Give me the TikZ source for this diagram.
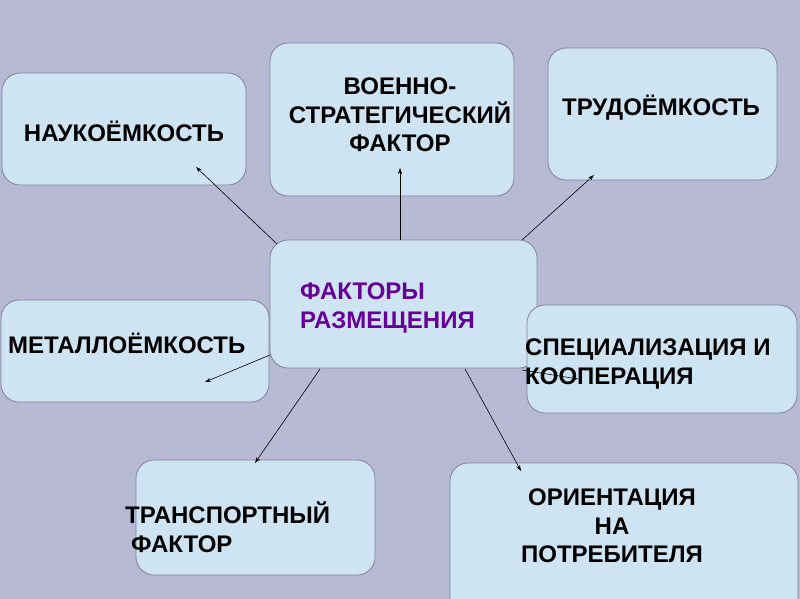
\documentclass[tikz,border=0pt]{standalone}
\usepackage{fontspec}
\setmainfont{Liberation Sans}
\usetikzlibrary{arrows.meta}
\definecolor{bgcol}{HTML}{B8B9D5}
\definecolor{boxfill}{HTML}{CFE4F2}
\definecolor{boxline}{HTML}{7E8496}
\definecolor{titlecol}{HTML}{660099}
\tikzset{
  box/.style={draw=boxline, line width=0.8pt, fill=boxfill, rounded corners=18pt},
  lbl/.style={inner sep=0pt, font=\fontsize{24}{28.5}\selectfont\bfseries},
  link/.style={draw=black, line width=0.6pt, -{Stealth[length=6pt,width=4pt]}}
}
\begin{document}
\begin{tikzpicture}[x=1pt,y=-1pt]
\fill[bgcol] (0,0) rectangle (800,599);
\useasboundingbox (0,0) rectangle (800,599);
% boxes
\draw[box] (2,73) rectangle (246,185);
\draw[box] (270,43) rectangle (514,196);
\draw[box] (548,48) rectangle (777,180);
\draw[box] (1,300) rectangle (269,402);
\draw[box] (270,240) rectangle (537,368);
\draw[box] (527,305) rectangle (797,413);
\draw[box] (136,460) rectangle (375,575);
\draw[box] (450,463) rectangle (798,640);
% labels
\node[lbl] (nauk) at (124,131) {НАУКОЁМКОСТЬ};
\node[lbl, align=center] (voen) at (400,115) {ВОЕННО-\\СТРАТЕГИЧЕСКИЙ\\ФАКТОР};
\node[lbl] (trud) at (661,108) {ТРУДОЁМКОСТЬ};
\node[lbl, align=left, anchor=west, text=titlecol] (cent) at (300,308) {ФАКТОРЫ\\РАЗМЕЩЕНИЯ};
\node[lbl, anchor=west] (metal) at (8,343) {МЕТАЛЛОЁМКОСТЬ};
\node[lbl, align=left, anchor=west] (spec) at (525,364) {СПЕЦИАЛИЗАЦИЯ И\\КООПЕРАЦИЯ};
\node[lbl, align=left, anchor=west] (trans) at (125,527) {ТРАНСПОРТНЫЙ\\\hspace*{6pt}ФАКТОР};
\node[lbl, align=center] (orient) at (612,526) {ОРИЕНТАЦИЯ\\НА\\ПОТРЕБИТЕЛЯ};
% connector ends
\coordinate (sN) at (277,244);
\coordinate (eN) at (196,167);
\coordinate (sV) at (400,240);
\coordinate (eV) at (400,168);
\coordinate (sT) at (522,240);
\coordinate (eT) at (594,175);
\coordinate (sM) at (270,355);
\coordinate (eM) at (205,382);
\coordinate (sTr) at (320,369);
\coordinate (eTr) at (255,463);
\coordinate (sO) at (465,369);
\coordinate (eO) at (521,471);
\coordinate (sS) at (522,370);
\coordinate (eS) at (578,379);
\draw[link] (sN) -- (eN);
\draw[link] (sV) -- (eV);
\draw[link] (sT) -- (eT);
\draw[link] (sM) -- (eM);
\draw[link] (sTr) -- (eTr);
\draw[link] (sO) -- (eO);
\draw[link] (sS) -- (eS);
\end{tikzpicture}
\end{document}
